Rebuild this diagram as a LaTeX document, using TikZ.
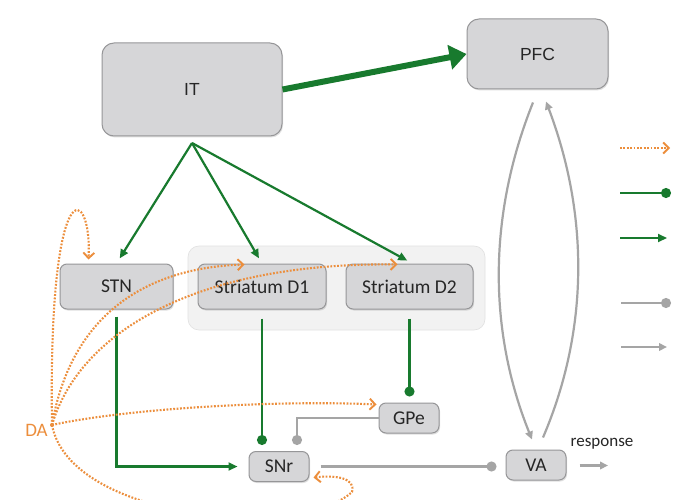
\documentclass[tikz,border=0pt]{standalone}
\usepackage{fontspec}
\setmainfont{Carlito}
\newfontfamily\arialf{Liberation Sans}
\usetikzlibrary{arrows.meta,shadows,calc}
\definecolor{grn}{RGB}{24,122,46}
\definecolor{org}{RGB}{236,142,60}
\definecolor{gline}{RGB}{165,165,165}
\definecolor{boxfill}{RGB}{214,214,216}
\definecolor{boxline}{RGB}{150,150,152}
\definecolor{grpfill}{RGB}{242,242,242}
\begin{document}
\begin{tikzpicture}[x=1pt,y=-1pt,
  box/.style={draw=boxline, fill=boxfill, line width=1pt, rounded corners=7pt, inner sep=0pt,
    font=\fontsize{19.5}{22}\selectfont, text=black!85,
    drop shadow={shadow xshift=1pt, shadow yshift=-1.5pt, opacity=0.25}},
  bigbox/.style={box, rounded corners=12pt, font=\arialf\fontsize{17.5}{20}\selectfont},
  grp/.style={draw=grpfill!85!gray, fill=grpfill, line width=0.6pt, rounded corners=11pt,
    inner sep=0pt, minimum width=297pt, minimum height=84pt},
  ga/.style={draw=grn, line width=2.2pt, -{Triangle[length=9pt,width=8pt]}},
  gd/.style={draw=grn, line width=2.2pt, -{Circle[length=10pt]}},
  ya/.style={draw=gline, line width=2.2pt, -{Triangle[length=8pt,width=7.5pt]}},
  yd/.style={draw=gline, line width=2.2pt, -{Circle[length=10pt]}},
  oa/.style={draw=org, line width=2.1pt, dash pattern={on 1.8pt off 1.6pt},
    -{Straight Barb[length=5.5pt,width=11pt,line width=1.9pt]}},
  lbl/.style={inner sep=0pt}
]
\fill[white] (0,0) rectangle (680,500);
\useasboundingbox (0,0) rectangle (680,500);

% group background
\node[grp] (group) at (336.5,288) {};

% nodes
\node[bigbox, minimum width=180pt, minimum height=93pt] (IT) at (192,89.5) {IT};
\node[bigbox, minimum width=141pt, minimum height=70pt] (PFC) at (537.5,54) {PFC};
\node[box, minimum width=113pt, minimum height=45pt] (STN) at (116.5,286.5) {STN};
\node[box, minimum width=128pt, minimum height=45pt] (D1) at (262,286.5) {Striatum D1};
\node[box, minimum width=127pt, minimum height=45pt] (D2) at (409.5,286.5) {Striatum D2};
\node[box, minimum width=60pt, minimum height=30pt] (GPe) at (409,418) {GPe};
\node[box, minimum width=60pt, minimum height=30pt] (SNr) at (279,466.5) {SNr};
\node[box, minimum width=60pt, minimum height=30pt] (VA) at (536,465) {VA};

\node[lbl, font=\fontsize{17}{19}\selectfont, text=black!85] (resp) at (602,444) {response};
\node[lbl, font=\fontsize{19}{21}\selectfont, text=org] (DAlbl) at (36.5,430) {DA};

\coordinate (da) at (52,425);
\coordinate (fan) at (192,143);
\coordinate (respend) at (608,465.5);

% IT -> PFC thick
\draw[draw=grn, line width=6pt, -{Triangle[length=17pt,width=24pt]}] (IT.east) -- (PFC.west);

% fan from IT
\draw[ga, shorten >=6pt] (fan) -- (STN.north);
\draw[ga, shorten >=6pt] (fan) -- (D1.north);
\draw[ga, shorten >=6pt] (fan) -- ([xshift=3pt]D2.north);

% STN -> SNr
\draw[ga, line join=miter] ([yshift=-7pt]STN.south) |- ([xshift=-11pt]SNr.west);
% D1 -o SNr
\draw[gd, shorten >=6pt] ([yshift=-9pt]D1.south) -- (D1.south |- SNr.north);
% D2 -o GPe
\draw[gd, shorten >=6pt] ([yshift=-9pt]D2.south) -- (D2.south |- GPe.north);
% GPe -o SNr (gray)
\draw[yd, shorten >=6pt] (GPe.west) -| ($(SNr.north)+(18,0)$);
% SNr -o VA
\draw[yd, shorten >=9pt] ([xshift=11pt]SNr.east) -- (SNr.east -| VA.west);
% VA -> response
\draw[ya] ([xshift=13pt]VA.east |- respend) -- (respend);

% PFC <-> VA lens
\draw[ya] ($(PFC.south)+(-4.5,13)$) .. controls (488,215) and (488,330) .. ($(VA.north)+(-4,-10)$);
\draw[ya] ($(VA.north)+(7,-12)$) .. controls (589,330) and (589,215) .. ($(PFC.south)+(8.5,12)$);

% DA projections
\fill[org] (da) circle (2pt);
\draw[oa] (da) .. controls (48,165) and (92,185) .. ($(STN.north west)+(29,-4)$);
\draw[oa] (da) .. controls (70,320) and (140,268) .. ($(D1.north west)+(47,1)$);
\draw[oa] (da) .. controls (80,330) and (200,262) .. ($(D2.north west)+(52,1)$);
\draw[oa] (da) .. controls (130,408) and (280,400) .. ($(GPe.north west)+(-2,2)$);
\draw[oa] (da) .. controls (70,520) and (300,540) .. (352,492) .. controls (356,478) and (336,475) .. ($(SNr.south east)+(4,-4.5)$);

% legend
\coordinate (l1s) at (620,148); \coordinate (l1e) at (670,148);
\coordinate (l2s) at (620,193); \coordinate (l2e) at (671,193);
\coordinate (l3s) at (620,238); \coordinate (l3e) at (667,238);
\coordinate (l4s) at (621,303); \coordinate (l4e) at (671,303);
\coordinate (l5s) at (621,347); \coordinate (l5e) at (667,347);
\draw[oa] (l1s) -- (l1e);
\draw[gd] (l2s) -- (l2e);
\draw[ga] (l3s) -- (l3e);
\draw[yd] (l4s) -- (l4e);
\draw[ya] (l5s) -- (l5e);
\end{tikzpicture}
\end{document}
